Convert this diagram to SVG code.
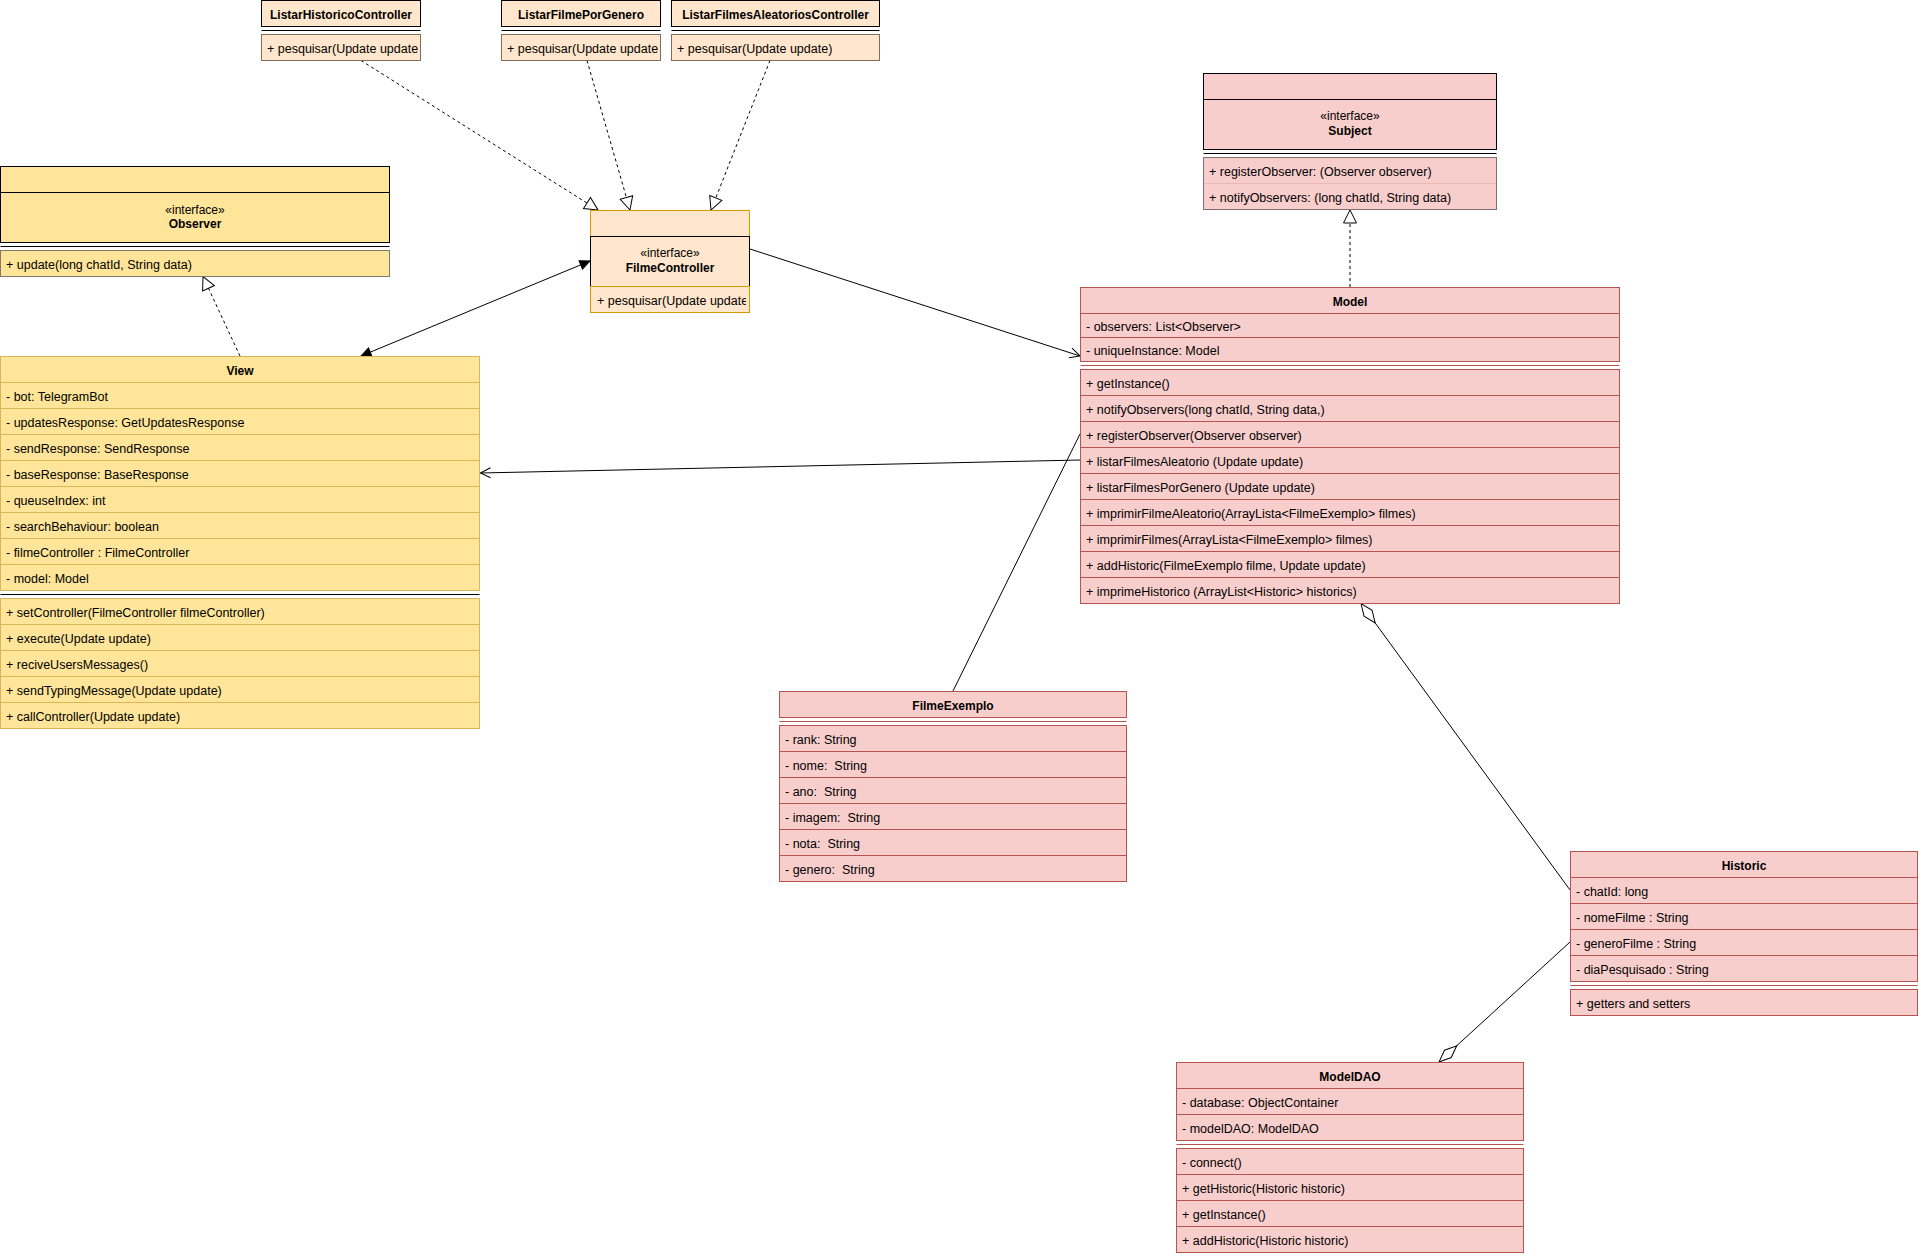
<svg xmlns="http://www.w3.org/2000/svg" width="1919" height="1255" viewBox="0 0 1919 1255">
<style>
text { font-family: "Liberation Sans", Arial, Helvetica, sans-serif; font-size: 12.5px; fill: #000; white-space: pre; }
.h { font-weight: bold; text-anchor: middle; font-size: 12px; }
.m { text-anchor: middle; font-size: 12px; }
.y { fill: #ffe599; stroke: #d6b656; }
.yk { fill: #ffe599; stroke: #000; }
.yg { fill: #ffe599; stroke: #7f7a6a; }
.p { fill: #ffe6cc; stroke: #d79b00; }
.pk { fill: #ffe6cc; stroke: #000; }
.pg { fill: #ffe6cc; stroke: #806c5c; }
.r { fill: #f8cecc; stroke: #b85450; }
.rk { fill: #f8cecc; stroke: #000; }
.rg { fill: #f8cecc; stroke: #7f7070; }
.sk { stroke: #000; }
.sr { stroke: #b85450; }
.sf { stroke: #eab7b5; }
.e { fill: none; stroke: #000; stroke-width: 1; }
.d { stroke-dasharray: 3 3; }
</style>
<defs>
<marker id="tri" markerUnits="userSpaceOnUse" orient="auto" markerWidth="30" markerHeight="30" viewBox="-15 -15 30 30" refX="0" refY="0" overflow="visible">
<path d="M-13,-6.5 L0,0 L-13,6.5 Z" fill="#fff" stroke="#000"/>
</marker>
<marker id="blk" markerUnits="userSpaceOnUse" orient="auto-start-reverse" markerWidth="30" markerHeight="30" viewBox="-15 -15 30 30" refX="0" refY="0" overflow="visible">
<path d="M-10,-4.5 L0,0 L-10,4.5 Z" fill="#000" stroke="#000"/>
</marker>
<marker id="opn" markerUnits="userSpaceOnUse" orient="auto" markerWidth="30" markerHeight="30" viewBox="-15 -15 30 30" refX="0" refY="0" overflow="visible">
<path d="M-10,-5 L0,0 L-10,5" fill="none" stroke="#000"/>
</marker>
<marker id="dia" markerUnits="userSpaceOnUse" orient="auto" markerWidth="60" markerHeight="60" viewBox="-30 -30 60 60" refX="0" refY="0" overflow="visible">
<path d="M0,0 L-12,-5 L-24,0 L-12,5 Z" fill="#fff" stroke="#000"/>
</marker>
<clipPath id="fcClip"><rect x="591" y="287" width="155" height="25"/></clipPath>
</defs>
<rect x="0" y="0" width="1919" height="1255" fill="#fff"/>

<g id="connectors">
<path class="e d" d="M361,60.5 L598,210" marker-end="url(#tri)"/>
<path class="e d" d="M587,60.5 L630,210" marker-end="url(#tri)"/>
<path class="e d" d="M770,60.5 L711,210" marker-end="url(#tri)"/>
<path class="e" d="M361,356 L590,261" marker-start="url(#blk)" marker-end="url(#blk)"/>
<path class="e" d="M750,249 L1080,356" marker-end="url(#opn)"/>
<path class="e d" d="M1350,287 L1350,210" marker-end="url(#tri)"/>
<path class="e d" d="M240,356 L203,276.5" marker-end="url(#tri)"/>
<path class="e" d="M1080,460 L480.5,473" marker-end="url(#opn)"/>
<path class="e" d="M953,691 L1080,434"/>
<path class="e" d="M1570,890 L1361,603.5" marker-end="url(#dia)"/>
<path class="e" d="M1570,942 L1439,1062" marker-end="url(#dia)"/>
</g>

<g id="listarHistoricoController">
<rect class="pk" x="261.5" y="0.5" width="159" height="26"/>
<text class="h" x="341" y="19">ListarHistoricoController</text>
<line class="sk" x1="261.5" y1="30.5" x2="420.5" y2="30.5"/>
<rect class="pg" x="261.5" y="34.5" width="159" height="26"/>
<text x="267" y="53">+ pesquisar(Update update</text>
</g>

<g id="listarFilmePorGenero">
<rect class="pk" x="501.5" y="0.5" width="159" height="26"/>
<text class="h" x="581" y="19">ListarFilmePorGenero</text>
<line class="sk" x1="501.5" y1="30.5" x2="660.5" y2="30.5"/>
<rect class="pg" x="501.5" y="34.5" width="159" height="26"/>
<text x="507" y="53">+ pesquisar(Update update</text>
</g>

<g id="listarFilmesAleatoriosController">
<rect class="pk" x="671.5" y="0.5" width="208" height="26"/>
<text class="h" x="775.5" y="19">ListarFilmesAleatoriosController</text>
<line class="sk" x1="671.5" y1="30.5" x2="879.5" y2="30.5"/>
<rect class="pg" x="671.5" y="34.5" width="208" height="26"/>
<text x="677" y="53">+ pesquisar(Update update)</text>
</g>

<g id="observer">
<rect class="yk" x="0.5" y="166.5" width="389" height="26"/>
<rect class="yk" x="0.5" y="192.5" width="389" height="50"/>
<text class="m" x="195" y="214">«interface»</text>
<text class="h" x="195" y="228">Observer</text>
<line class="sk" x1="0.5" y1="246.5" x2="389.5" y2="246.5"/>
<rect class="yg" x="0.5" y="250.5" width="389" height="26"/>
<text x="6" y="268.5">+ update(long chatId, String data)</text>
</g>

<g id="filmeController">
<rect class="p" x="590.5" y="210.5" width="159" height="26"/>
<rect class="pk" x="590.5" y="236.5" width="159" height="50"/>
<text class="m" x="670" y="256.5">«interface»</text>
<text class="h" x="670" y="272">FilmeController</text>
<rect class="p" x="590.5" y="286.5" width="159" height="26"/>
<text x="597" y="305" clip-path="url(#fcClip)">+ pesquisar(Update update</text>
</g>

<g id="subject">
<rect class="rk" x="1203.5" y="73.5" width="293" height="26"/>
<rect class="rk" x="1203.5" y="99.5" width="293" height="50"/>
<text class="m" x="1350" y="120">«interface»</text>
<text class="h" x="1350" y="135">Subject</text>
<line class="sk" x1="1203.5" y1="153.5" x2="1496.5" y2="153.5"/>
<rect class="rg" x="1203.5" y="157.5" width="293" height="52"/>
<line class="sf" x1="1204" y1="183.5" x2="1496" y2="183.5"/>
<text x="1209" y="175.5">+ registerObserver: (Observer observer)</text>
<text x="1209" y="201.5">+ notifyObservers: (long chatId, String data)</text>
</g>

<g id="model">
<rect class="r" x="1080.5" y="287.5" width="539" height="26"/>
<text class="h" x="1350" y="305.5">Model</text>
<rect class="r" x="1080.5" y="313.5" width="539" height="24"/>
<text x="1086" y="331">- observers: List&lt;Observer&gt;</text>
<rect class="r" x="1080.5" y="337.5" width="539" height="24"/>
<text x="1086" y="355">- uniqueInstance: Model</text>
<line class="sr" x1="1080.5" y1="365.5" x2="1619.5" y2="365.5"/>
<rect class="r" x="1080.5" y="369.5" width="539" height="26"/>
<text x="1086" y="388">+ getInstance()</text>
<rect class="r" x="1080.5" y="395.5" width="539" height="26"/>
<text x="1086" y="414">+ notifyObservers(long chatId, String data,)</text>
<rect class="r" x="1080.5" y="421.5" width="539" height="26"/>
<text x="1086" y="440">+ registerObserver(Observer observer)</text>
<rect class="r" x="1080.5" y="447.5" width="539" height="26"/>
<text x="1086" y="466">+ listarFilmesAleatorio (Update update)</text>
<rect class="r" x="1080.5" y="473.5" width="539" height="26"/>
<text x="1086" y="492">+ listarFilmesPorGenero (Update update)</text>
<rect class="r" x="1080.5" y="499.5" width="539" height="26"/>
<text x="1086" y="518">+ imprimirFilmeAleatorio(ArrayLista&lt;FilmeExemplo&gt; filmes)</text>
<rect class="r" x="1080.5" y="525.5" width="539" height="26"/>
<text x="1086" y="544">+ imprimirFilmes(ArrayLista&lt;FilmeExemplo&gt; filmes)</text>
<rect class="r" x="1080.5" y="551.5" width="539" height="26"/>
<text x="1086" y="570">+ addHistoric(FilmeExemplo filme, Update update)</text>
<rect class="r" x="1080.5" y="577.5" width="539" height="26"/>
<text x="1086" y="596">+ imprimeHistorico (ArrayList&lt;Historic&gt; historics)</text>
</g>

<g id="view">
<rect class="y" x="0.5" y="356.5" width="479" height="26"/>
<text class="h" x="240" y="374.5">View</text>
<rect class="y" x="0.5" y="382.5" width="479" height="26"/>
<text x="6" y="401">- bot: TelegramBot</text>
<rect class="y" x="0.5" y="408.5" width="479" height="26"/>
<text x="6" y="427">- updatesResponse: GetUpdatesResponse</text>
<rect class="y" x="0.5" y="434.5" width="479" height="26"/>
<text x="6" y="453">- sendResponse: SendResponse</text>
<rect class="y" x="0.5" y="460.5" width="479" height="26"/>
<text x="6" y="479">- baseResponse: BaseResponse</text>
<rect class="y" x="0.5" y="486.5" width="479" height="26"/>
<text x="6" y="505">- queuseIndex: int</text>
<rect class="y" x="0.5" y="512.5" width="479" height="26"/>
<text x="6" y="531">- searchBehaviour: boolean</text>
<rect class="y" x="0.5" y="538.5" width="479" height="26"/>
<text x="6" y="557">- filmeController : FilmeController</text>
<rect class="y" x="0.5" y="564.5" width="479" height="26"/>
<text x="6" y="583">- model: Model</text>
<line class="sk" x1="0.5" y1="594.5" x2="479.5" y2="594.5"/>
<rect class="y" x="0.5" y="598.5" width="479" height="26"/>
<text x="6" y="617">+ setController(FilmeController filmeController)</text>
<rect class="y" x="0.5" y="624.5" width="479" height="26"/>
<text x="6" y="643">+ execute(Update update)</text>
<rect class="y" x="0.5" y="650.5" width="479" height="26"/>
<text x="6" y="669">+ reciveUsersMessages()</text>
<rect class="y" x="0.5" y="676.5" width="479" height="26"/>
<text x="6" y="695">+ sendTypingMessage(Update update)</text>
<rect class="y" x="0.5" y="702.5" width="479" height="26"/>
<text x="6" y="721">+ callController(Update update)</text>
</g>

<g id="filmeExemplo">
<rect class="r" x="779.5" y="691.5" width="347" height="26"/>
<text class="h" x="953" y="709.5">FilmeExemplo</text>
<line class="sr" x1="779.5" y1="721.5" x2="1126.5" y2="721.5"/>
<rect class="r" x="779.5" y="725.5" width="347" height="26"/>
<text x="785" y="744">- rank: String</text>
<rect class="r" x="779.5" y="751.5" width="347" height="26"/>
<text x="785" y="770">- nome:  String</text>
<rect class="r" x="779.5" y="777.5" width="347" height="26"/>
<text x="785" y="796">- ano:  String</text>
<rect class="r" x="779.5" y="803.5" width="347" height="26"/>
<text x="785" y="822">- imagem:  String</text>
<rect class="r" x="779.5" y="829.5" width="347" height="26"/>
<text x="785" y="848">- nota:  String</text>
<rect class="r" x="779.5" y="855.5" width="347" height="26"/>
<text x="785" y="874">- genero:  String</text>
</g>

<g id="historic">
<rect class="r" x="1570.5" y="851.5" width="347" height="26"/>
<text class="h" x="1744" y="869.5">Historic</text>
<rect class="r" x="1570.5" y="877.5" width="347" height="26"/>
<text x="1576" y="896">- chatId: long</text>
<rect class="r" x="1570.5" y="903.5" width="347" height="26"/>
<text x="1576" y="922">- nomeFilme : String</text>
<rect class="r" x="1570.5" y="929.5" width="347" height="26"/>
<text x="1576" y="948">- generoFilme : String</text>
<rect class="r" x="1570.5" y="955.5" width="347" height="26"/>
<text x="1576" y="974">- diaPesquisado : String</text>
<line class="sr" x1="1570.5" y1="985.5" x2="1917.5" y2="985.5"/>
<rect class="r" x="1570.5" y="989.5" width="347" height="26"/>
<text x="1576" y="1008">+ getters and setters</text>
</g>

<g id="modelDAO">
<rect class="r" x="1176.5" y="1062.5" width="347" height="26"/>
<text class="h" x="1350" y="1080.5">ModelDAO</text>
<rect class="r" x="1176.5" y="1088.5" width="347" height="26"/>
<text x="1182" y="1107">- database: ObjectContainer</text>
<rect class="r" x="1176.5" y="1114.5" width="347" height="26"/>
<text x="1182" y="1133">- modelDAO: ModelDAO</text>
<line class="sr" x1="1176.5" y1="1144.5" x2="1523.5" y2="1144.5"/>
<rect class="r" x="1176.5" y="1148.5" width="347" height="26"/>
<text x="1182" y="1167">- connect()</text>
<rect class="r" x="1176.5" y="1174.5" width="347" height="26"/>
<text x="1182" y="1193">+ getHistoric(Historic historic)</text>
<rect class="r" x="1176.5" y="1200.5" width="347" height="26"/>
<text x="1182" y="1219">+ getInstance()</text>
<rect class="r" x="1176.5" y="1226.5" width="347" height="26"/>
<text x="1182" y="1245">+ addHistoric(Historic historic)</text>
</g>
</svg>
